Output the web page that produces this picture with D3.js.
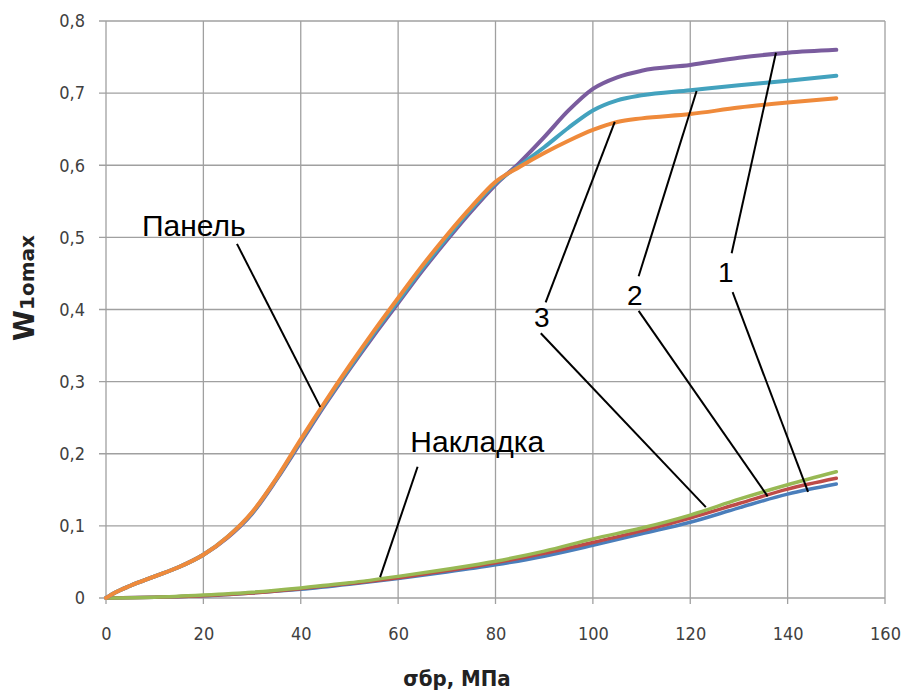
<!DOCTYPE html>
<html>
<head>
<meta charset="utf-8">
<script src="https://cdn.jsdelivr.net/npm/d3@7"></script>
<style>
  body { margin: 0; background: #fff; }
  svg { display: block; }
</style>
</head>
<body>
<div id="chart"></div>
<script>
// Panel curves (Панель): 1 purple, 2 teal, 3 orange
const panelX = [0, 2, 5, 10, 15, 20, 25, 30, 35, 40, 45, 50, 55, 60, 65, 70, 75, 80, 85, 90, 95, 100, 105, 110, 120, 130, 140, 150];
const panel1 = [0, .008, .017, .030, .043, .060, .084, .117, .164, .216, .268, .317, .364, .409, .454, .496, .536, .573, .604, .639, .676, .706, .722, .731, .739, .749, .756, .760];
const panel2 = [0, .008, .017, .030, .043, .060, .085, .118, .165, .218, .270, .319, .367, .412, .457, .499, .539, .575, .600, .625, .652, .676, .690, .697, .704, .711, .717, .724];
const panel3 = [0, .008, .017, .030, .043, .060, .085, .119, .166, .220, .272, .322, .370, .416, .461, .503, .542, .577, .598, .617, .634, .649, .660, .665, .671, .680, .687, .693];

// Overlay curves (Накладка): 1 blue, 2 red, 3 green
const nakX = [0, 10, 20, 30, 40, 50, 60, 70, 80, 90, 100, 110, 120, 130, 140, 150];
const nak1 = [0, .001, .003, .007, .012, .019, .027, .036, .046, .058, .073, .089, .105, .125, .144, .158];
const nak2 = [0, .001, .003, .007, .013, .020, .028, .038, .049, .062, .077, .093, .111, .131, .151, .166];
const nak3 = [0, .001, .004, .008, .014, .021, .030, .040, .051, .065, .082, .097, .115, .137, .157, .175];

const xTicks = [0, 20, 40, 60, 80, 100, 120, 140, 160];
const yTicks = [0, 0.1, 0.2, 0.3, 0.4, 0.5, 0.6, 0.7, 0.8];

const series = [
  { x: nakX, y: nak1, color: '#4a7ebb', width: 3.5 },
  { x: nakX, y: nak2, color: '#be4b48', width: 3.5 },
  { x: nakX, y: nak3, color: '#98b954', width: 3.5 },
  { x: panelX, y: panel1, color: '#7a5c9e', width: 4 },
  { x: panelX, y: panel2, color: '#43a2be', width: 4 },
  { x: panelX, y: panel3, color: '#ef8a3b', width: 4 },
];

// text labels and leader lines, in data units
const labels = [
  { text: 'Панель', x: 7.4, y: 0.502, size: 30, anchor: 'start' },
  { text: 'Накладка', x: 62.5, y: 0.202, size: 30, anchor: 'start' },
  { text: '1', x: 127.3, y: 0.438, size: 28, anchor: 'middle' },
  { text: '2', x: 108.6, y: 0.406, size: 28, anchor: 'middle' },
  { text: '3', x: 89.5, y: 0.376, size: 28, anchor: 'middle' },
];
const leaders = [
  [26.9, 0.491, 44.0, 0.265],
  [64.0, 0.182, 56.3, 0.029],
  [128.5, 0.478, 137.6, 0.756],
  [128.7, 0.424, 144.2, 0.147],
  [109.4, 0.446, 121.3, 0.703],
  [109.4, 0.398, 135.9, 0.141],
  [90.3, 0.410, 104.5, 0.660],
  [89.3, 0.367, 123.2, 0.126],
];

const width = 905, height = 692;
const margin = { top: 21, right: 20, bottom: 94, left: 106 };

const svg = d3.select('#chart').append('svg')
    .attr('width', width)
    .attr('height', height);

const x = d3.scaleLinear([0, 160], [margin.left, width - margin.right]);
const y = d3.scaleLinear([0, 0.8], [height - margin.bottom, margin.top]);

const fmt = d => d === 0 ? '0' : d.toFixed(1).replace('.', ',');
const tickFont = '"DejaVu Sans Condensed", "Liberation Sans Narrow", sans-serif';

// grid
svg.append('g')
  .selectAll('line')
  .data(xTicks)
  .join('line')
    .attr('x1', d => x(d)).attr('x2', d => x(d))
    .attr('y1', y(0.8)).attr('y2', y(0) + 6)
    .attr('stroke', '#a0a0a0')
    .attr('stroke-width', 1.3);

svg.append('g')
  .selectAll('line')
  .data(yTicks)
  .join('line')
    .attr('x1', x(0) - 7).attr('x2', x(160))
    .attr('y1', d => y(d)).attr('y2', d => y(d))
    .attr('stroke', '#a0a0a0')
    .attr('stroke-width', 1.3);

// axes labels
const xAxis = d3.axisBottom(x).tickValues(xTicks).tickFormat(d => d).tickSize(0).tickPadding(29);
const yAxis = d3.axisLeft(y).tickValues(yTicks).tickFormat(fmt).tickSize(0).tickPadding(21);

const gx = svg.append('g')
    .attr('transform', `translate(0, ${y(0)})`)
    .call(xAxis);
const gy = svg.append('g')
    .attr('transform', `translate(${x(0)}, 0)`)
    .call(yAxis);

[gx, gy].forEach(g => {
  g.select('.domain').remove();
  g.selectAll('text')
      .attr('font-family', tickFont)
      .attr('font-size', 18)
      .attr('fill', '#404040');
});

// series
const line = d3.line()
    .x(d => x(d[0]))
    .y(d => y(d[1]))
    .curve(d3.curveMonotoneX);

svg.append('g')
  .selectAll('path')
  .data(series)
  .join('path')
    .attr('d', s => line(s.x.map((v, i) => [v, s.y[i]])))
    .attr('fill', 'none')
    .attr('stroke', s => s.color)
    .attr('stroke-width', s => s.width)
    .attr('stroke-linecap', 'round')
    .attr('stroke-linejoin', 'round');

// leaders
svg.append('g')
  .selectAll('line')
  .data(leaders)
  .join('line')
    .attr('x1', d => x(d[0])).attr('y1', d => y(d[1]))
    .attr('x2', d => x(d[2])).attr('y2', d => y(d[3]))
    .attr('stroke', '#000')
    .attr('stroke-width', 2);

svg.append('g')
  .selectAll('text')
  .data(labels)
  .join('text')
    .attr('x', d => x(d.x))
    .attr('y', d => y(d.y))
    .attr('text-anchor', d => d.anchor)
    .attr('font-family', '"Liberation Sans", Arial, sans-serif')
    .attr('font-size', d => d.size)
    .attr('fill', '#000')
    .text(d => d.text);

// axis titles
svg.append('text')
    .attr('x', 457)
    .attr('y', 686)
    .attr('text-anchor', 'middle')
    .attr('font-family', tickFont)
    .attr('font-weight', 'bold')
    .attr('font-size', 22)
    .attr('fill', '#222')
    .text('σбр, МПа');

const yTitle = svg.append('text')
    .attr('transform', 'translate(34, 288) rotate(-90)')
    .attr('text-anchor', 'middle')
    .attr('font-family', '"DejaVu Sans", sans-serif')
    .attr('font-weight', 'bold')
    .attr('fill', '#222');
yTitle.append('tspan').attr('font-size', 28).text('W');
yTitle.append('tspan').attr('font-size', 20).text('1omax');
</script>
</body>
</html>
